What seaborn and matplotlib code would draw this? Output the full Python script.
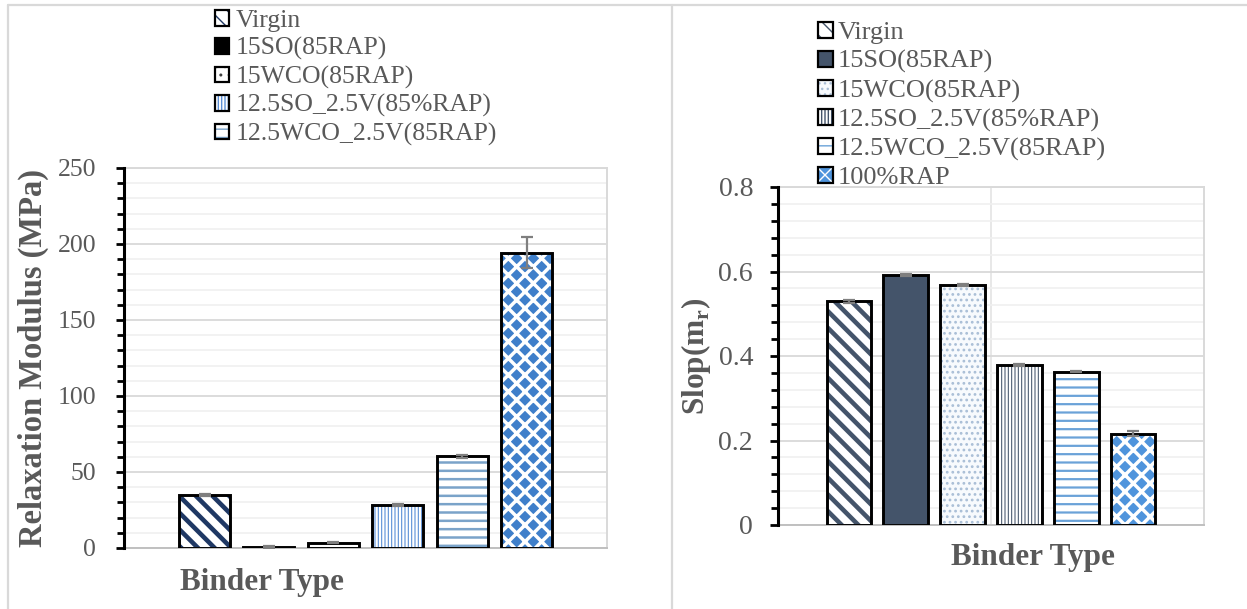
import numpy as np
import pandas as pd
import matplotlib
matplotlib.use("Agg")
import matplotlib.pyplot as plt
from matplotlib.ticker import MultipleLocator, FuncFormatter
from matplotlib.lines import Line2D
from matplotlib.patches import Patch
import seaborn as sns

# ---- data -------------------------------------------------------------
binders = ["Virgin", "15SO(85RAP)", "15WCO(85RAP)",
           "12.5SO_2.5V(85%RAP)", "12.5WCO_2.5V(85RAP)", "100%RAP"]

modulus = [35.0, 0.8, 3.5, 28.5, 60.3, 194.3]          # MPa
modulus_err = [0.6, 0.5, 0.5, 0.6, 0.8, 10.0]
modulus_legend = binders[:5]

slope = [0.529, 0.592, 0.568, 0.379, 0.363, 0.216]
slope_err = [0.003, 0.003, 0.003, 0.002, 0.002, 0.006]
slope_legend = binders

# ---- styles: facecolor, hatch, hatch colour, hatch width ---------------
left_styles = {
    "Virgin": ("white", "\\\\", "#1f3864", 3.3),
    "15SO(85RAP)": ("black", None, "black", 0.0),
    "15WCO(85RAP)": ("white", "..", "#404040", 1.0),
    "12.5SO_2.5V(85%RAP)": ("white", "|||||", "#5b8fd6", 0.8),
    "12.5WCO_2.5V(85RAP)": ("white", "--", "#7aa3c9", 1.8),
    "100%RAP": ("#3f7fca", "xx", "white", 2.5),
}
right_styles = {
    "Virgin": ("white", "\\\\", "#44546a", 3.3),
    "15SO(85RAP)": ("#44546a", None, "#44546a", 0.0),
    "15WCO(85RAP)": ("#f7fafd", "...", "#a9bed6", 1.2),
    "12.5SO_2.5V(85%RAP)": ("white", "|||||", "#44546a", 0.75),
    "12.5WCO_2.5V(85RAP)": ("white", "--", "#6aa2d8", 1.6),
    "100%RAP": ("#4f94dc", "xx", "white", 2.5),
}

sns.set_style("white")
plt.rcParams["font.family"] = ["Liberation Serif", "DejaVu Serif"]
plt.rcParams["mathtext.fontset"] = "custom"
plt.rcParams["mathtext.rm"] = "Liberation Serif:bold"

TEXT = "#595959"
W, H = 1247, 609
fig = plt.figure(figsize=(W / 100, H / 100), dpi=100)


def px_axes(x0, y0, x1, y1):
    return fig.add_axes([x0 / W, 1 - y1 / H, (x1 - x0) / W, (y1 - y0) / H])


def draw_panel(ax, values, errors, styles, top, major, minor, tick_size, pad):
    df = pd.DataFrame({"binder": binders, "value": values})
    n0 = len(ax.patches)
    sns.barplot(data=df, x="binder", y="value", hue="binder",
                palette=[styles[b][0] for b in binders], saturation=1,
                width=0.79, errorbar=None, legend=False, linewidth=0, ax=ax)
    fills = ax.patches[n0:]
    for p, b in zip(fills, binders):
        face, hatch, hcol, hlw = styles[b]
        p.set_edgecolor(hcol)
        p.set_linewidth(0)
        if hatch:
            p.set_hatch(hatch)
            if hasattr(p, "set_hatch_linewidth"):
                p.set_hatch_linewidth(hlw)
        p.set_zorder(2)
    n1 = len(ax.patches)
    sns.barplot(data=df, x="binder", y="value", fill=False, color="black",
                saturation=1, width=0.79, errorbar=None, linewidth=2.1, ax=ax)
    for p in ax.patches[n1:]:
        p.set_edgecolor("black")
        p.set_zorder(3)
    ax.errorbar(np.arange(len(binders)), values, yerr=errors, fmt="none",
                ecolor="#7f7f7f", elinewidth=1.6, capsize=4.2, capthick=1.6,
                zorder=4)

    ax.set_ylim(0, top)
    ax.set_xlim(-1.25, len(binders) - 1 + 1.25)
    ax.yaxis.set_major_locator(MultipleLocator(major))
    ax.yaxis.set_minor_locator(MultipleLocator(minor))
    ax.yaxis.set_major_formatter(FuncFormatter(lambda v, _: f"{v:g}"))
    ax.tick_params(axis="y", which="both", direction="out", color="black",
                   width=2.0, left=True, labelsize=tick_size,
                   labelcolor=TEXT, pad=pad)
    ax.tick_params(axis="y", which="major", length=6)
    ax.tick_params(axis="y", which="minor", length=5)
    ax.tick_params(axis="x", which="both", length=0, labelbottom=False)
    ax.set_axisbelow(True)
    ax.grid(axis="y", which="major", color="#d9d9d9", lw=1.3)
    ax.grid(axis="y", which="minor", color="#f0f0f0", lw=1.2)
    for side in ("top", "right"):
        ax.spines[side].set_color("#d9d9d9")
        ax.spines[side].set_linewidth(1.4)
    ax.spines["bottom"].set_color("#c0c0c0")
    ax.spines["bottom"].set_linewidth(1.4)
    ax.spines["left"].set_color("black")
    ax.spines["left"].set_linewidth(2.2)
    ax.spines["left"].set_zorder(5)
    return fills


frame = Patch(facecolor="none", edgecolor="black", linewidth=1.6)

# ---- left panel: relaxation modulus -----------------------------------
ax1 = px_axes(124, 168, 607, 548)
fills1 = draw_panel(ax1, modulus, modulus_err, left_styles, 250, 50, 10, 18.5, 14)
ax1.set_ylabel("Relaxation Modulus (MPa)", fontsize=23.5, fontweight="bold",
               color=TEXT, va="center")
ax1.yaxis.set_label_coords(-0.187, 0.5)
ax1.set_xlabel("Binder Type", fontsize=22.5, fontweight="bold", color=TEXT,
               va="center")
ax1.xaxis.set_label_coords(0.2857, -0.092)
fig.legend([(fills1[i], frame) for i in range(len(modulus_legend))],
           modulus_legend, loc="upper left",
           bbox_to_anchor=(215 / W, 1 - 10 / H), bbox_transform=fig.transFigure,
           frameon=False, fontsize=18.5, labelcolor=TEXT, handlelength=0.55,
           handleheight=0.55, handletextpad=0.25, labelspacing=0.21,
           borderpad=0, borderaxespad=0)

# ---- right panel: slope m_r ---------------------------------------------
ax2 = px_axes(778, 187, 1204, 525)
fills2 = draw_panel(ax2, slope, slope_err, right_styles, 0.8, 0.2, 0.04, 20, 12)
ax2.set_xticks([(len(binders) - 1) / 2])
ax2.xaxis.grid(True, color="#e6e6e6", lw=1.3)
ax2.set_ylabel("Slop(m$_\\mathregular{r}$)", fontsize=22.5, fontweight="bold",
               color=TEXT, va="center")
ax2.yaxis.set_label_coords(-0.1925, 0.5)
ax2.set_xlabel("Binder Type", fontsize=22.5, fontweight="bold", color=TEXT,
               va="center")
ax2.xaxis.set_label_coords(0.5986, -0.0947)
fig.legend([(fills2[i], frame) for i in range(len(slope_legend))],
           slope_legend, loc="upper left",
           bbox_to_anchor=(818 / W, 1 - 22 / H), bbox_transform=fig.transFigure,
           frameon=False, fontsize=19, labelcolor=TEXT, handlelength=0.55,
           handleheight=0.55, handletextpad=0.2, labelspacing=0.23,
           borderpad=0, borderaxespad=0)

# ---- chart frames --------------------------------------------------------
for xs, ys in [((8 / W, 1.0), (1 - 5 / H, 1 - 5 / H)),
               ((8 / W, 8 / W), (0.0, 1 - 5 / H)),
               ((672 / W, 672 / W), (0.0, 1 - 5 / H))]:
    fig.add_artist(Line2D(xs, ys, transform=fig.transFigure,
                          color="#d9d9d9", lw=1.6))

fig.savefig("out.png", dpi=100)
